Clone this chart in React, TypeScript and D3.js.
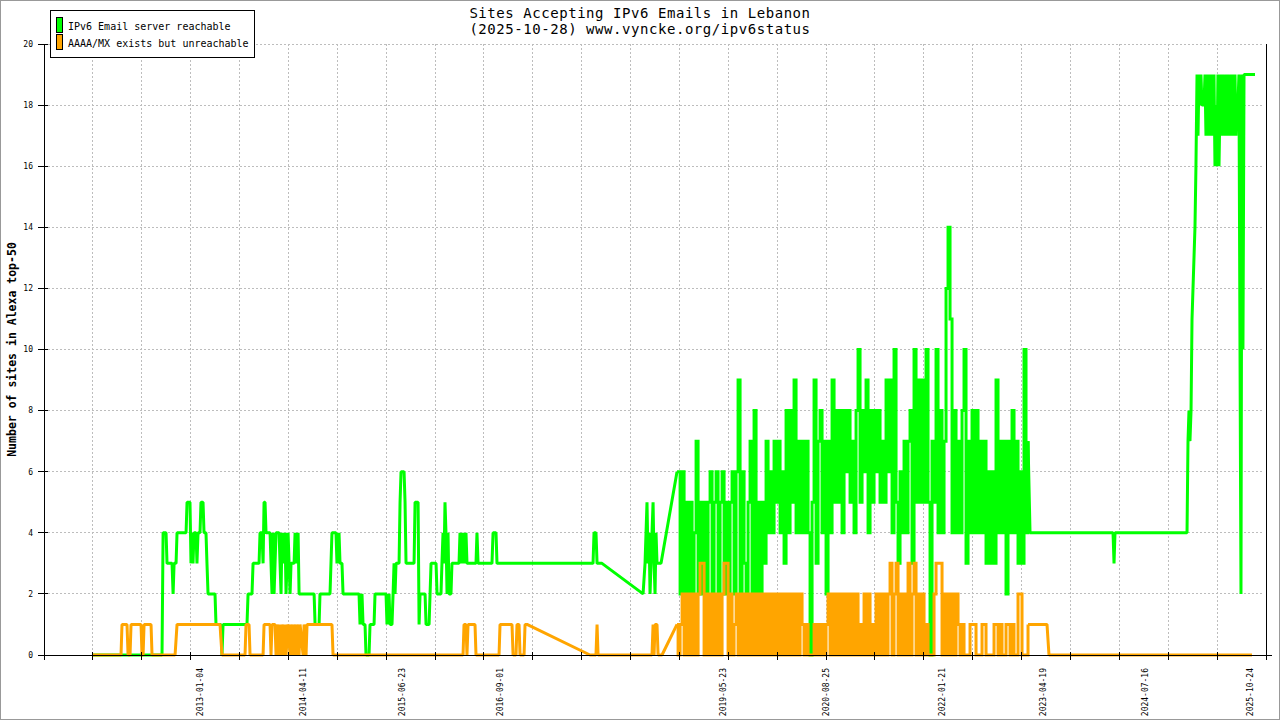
import React from "react"
import * as d3 from "d3"

// chart text
const titleLines = ["Sites Accepting IPv6 Emails in Lebanon", "(2025-10-28) www.vyncke.org/ipv6status"]
const yAxisTitle = "Number of sites in Alexa top-50"
const seriesNames = ["IPv6 Email server reachable", "AAAA/MX exists but unreachable"]
const seriesColors = ["#00ff00", "#ffa500"]

// axes
const xLabels = ["2013-01-04", "2014-04-11", "2015-06-23", "2016-09-01", "2019-05-23", "2020-08-25", "2022-01-21", "2023-04-19", "2024-07-16", "2025-10-24"]
const yTicks = [0, 2, 4, 6, 8, 10, 12, 14, 16, 18, 20]
const xDomain = [2011.108, 2026.007] // decimal years
const xTickCount = 26

// [decimal year, sites] — sparse polling
const greenEarly: [number, number][] = [
  [2011.693, 0], [2012.547, 0], [2012.56, 4], [2012.596, 4], [2012.608, 3], [2012.669, 3], [2012.682, 2], [2012.694, 3],
  [2012.718, 3], [2012.73, 4], [2012.84, 4], [2012.852, 5], [2012.888, 5], [2012.9, 3], [2012.912, 4], [2012.925, 3],
  [2012.937, 4], [2012.961, 4], [2012.973, 3], [2012.986, 4], [2013.01, 4], [2013.022, 5], [2013.047, 5], [2013.059, 4],
  [2013.083, 4], [2013.095, 3], [2013.108, 2], [2013.193, 2], [2013.205, 1], [2013.266, 1], [2013.278, 0], [2013.291, 1],
  [2013.583, 1], [2013.596, 2], [2013.644, 2], [2013.657, 3], [2013.73, 3], [2013.742, 4], [2013.766, 4], [2013.779, 3],
  [2013.791, 5], [2013.803, 5], [2013.815, 4], [2013.864, 4], [2013.876, 3], [2013.888, 2], [2013.901, 4], [2013.913, 2],
  [2013.925, 3], [2013.937, 4], [2013.974, 4], [2013.986, 3], [2013.998, 2], [2014.01, 4], [2014.023, 3], [2014.047, 4],
  [2014.059, 2], [2014.071, 3], [2014.084, 4], [2014.096, 3], [2014.108, 2], [2014.12, 3], [2014.157, 3], [2014.169, 4],
  [2014.181, 3], [2014.206, 4], [2014.218, 2], [2014.401, 2], [2014.413, 1], [2014.462, 1], [2014.473, 2], [2014.595, 2],
  [2014.607, 3], [2014.619, 4], [2014.668, 4], [2014.68, 3], [2014.705, 4], [2014.717, 3], [2014.741, 3], [2014.754, 2],
  [2014.949, 2], [2014.961, 1], [2014.985, 2], [2014.998, 1], [2015.022, 1], [2015.034, 0], [2015.071, 0], [2015.083, 1],
  [2015.132, 1], [2015.144, 2], [2015.278, 2], [2015.29, 1], [2015.315, 2], [2015.327, 1], [2015.351, 1], [2015.364, 2],
  [2015.376, 3], [2015.388, 2], [2015.4, 3], [2015.437, 3], [2015.449, 5], [2015.461, 6], [2015.498, 6], [2015.51, 5],
  [2015.522, 3], [2015.62, 3], [2015.632, 5], [2015.669, 5], [2015.681, 1], [2015.693, 2], [2015.754, 2], [2015.766, 1],
  [2015.803, 1], [2015.815, 2], [2015.827, 3], [2015.888, 3], [2015.9, 2], [2015.948, 2], [2015.96, 3], [2015.973, 4],
  [2015.985, 3], [2015.997, 5], [2016.009, 4], [2016.022, 2], [2016.034, 4], [2016.046, 2], [2016.07, 2], [2016.082, 3],
  [2016.168, 3], [2016.18, 4], [2016.192, 3], [2016.204, 4], [2016.217, 3], [2016.229, 4], [2016.241, 3], [2016.253, 4],
  [2016.265, 3], [2016.375, 3], [2016.387, 4], [2016.4, 3], [2016.57, 3], [2016.583, 4], [2016.619, 4], [2016.631, 3],
  [2017.802, 3], [2017.814, 4], [2017.838, 4], [2017.851, 3], [2017.911, 3], [2018.412, 2], [2018.436, 3], [2018.46, 5],
  [2018.473, 3], [2018.485, 4], [2018.497, 2], [2018.509, 3], [2018.521, 4], [2018.534, 5], [2018.546, 3], [2018.558, 2],
  [2018.57, 4], [2018.582, 3], [2018.631, 3], [2018.826, 6],
]

const orangeEarly: [number, number][] = [
  [2011.693, 0], [2012.047, 0], [2012.059, 1], [2012.12, 1], [2012.133, 0], [2012.157, 0], [2012.169, 1], [2012.291, 1],
  [2012.303, 0], [2012.316, 0], [2012.328, 1], [2012.413, 1], [2012.425, 0], [2012.706, 0], [2012.73, 1], [2013.254, 1],
  [2013.278, 0], [2013.559, 0], [2013.571, 1], [2013.608, 1], [2013.62, 0], [2013.779, 0], [2013.791, 1], [2013.864, 1],
  [2013.876, 0], [2013.888, 1], [2013.925, 1], [2013.937, 0], [2013.949, 1], [2013.974, 0], [2013.986, 1], [2013.998, 0],
  [2014.01, 1], [2014.035, 0], [2014.047, 1], [2014.059, 0], [2014.084, 1], [2014.108, 0], [2014.12, 1], [2014.145, 0],
  [2014.157, 1], [2014.181, 0], [2014.193, 1], [2014.218, 0], [2014.23, 1], [2014.267, 0], [2014.279, 1], [2014.303, 0],
  [2014.315, 1], [2014.619, 1], [2014.632, 0], [2016.217, 0], [2016.229, 1], [2016.253, 1], [2016.265, 0], [2016.278, 1],
  [2016.363, 1], [2016.375, 0], [2016.656, 0], [2016.668, 1], [2016.814, 1], [2016.827, 0], [2016.863, 0], [2016.875, 1],
  [2016.9, 1], [2016.912, 0], [2016.961, 0], [2016.973, 1], [2016.997, 1], [2017.765, 0], [2017.838, 0], [2017.851, 1],
  [2017.863, 0], [2018.521, 0], [2018.534, 1], [2018.546, 0], [2018.558, 1], [2018.582, 1], [2018.595, 0], [2018.643, 0],
  [2018.826, 1],
]

// frequent polling, one value every ~9 days from late 2018 to early 2023
const denseStart = 2018.839
const denseStep = 0.02438
const greenDense = [
  6, 2, 6, 2, 5, 2, 5, 2, 4, 7,
  2, 5, 2, 5, 2, 5, 6, 2, 5, 6,
  2, 5, 6, 2, 5, 2, 5, 6, 2, 6,
  9, 2, 6, 3, 2, 5, 7, 2, 8, 2,
  5, 2, 5, 3, 7, 4, 6, 4, 7, 5,
  7, 4, 6, 3, 8, 4, 8, 5, 9, 4,
  7, 4, 7, 4, 7, 4, 0, 5, 9, 3,
  7, 8, 4, 7, 2, 7, 4, 9, 5, 8,
  5, 8, 4, 8, 6, 8, 5, 7, 4, 8,
  10, 5, 8, 6, 9, 4, 8, 5, 8, 6,
  8, 5, 7, 5, 9, 6, 9, 4, 10, 5,
  3, 6, 4, 7, 4, 7, 8, 3, 10, 5,
  9, 5, 9, 5, 10, 5, 0, 7, 5, 10,
  4, 8, 4, 7, 12, 14, 11, 4, 8, 4,
  7, 4, 8, 10, 3, 7, 4, 8, 4, 8,
  4, 7, 4, 7, 3, 6, 3, 6, 3, 9,
  4, 7, 4, 7, 2, 7, 4, 8, 4, 7,
  3, 6, 3, 10, 4, 7,
]
const orangeDense = [
  0, 1, 2, 0, 2, 0, 2, 0, 2, 0,
  2, 3, 3, 0, 2, 0, 2, 0, 2, 0,
  2, 0, 2, 3, 3, 0, 2, 0, 1, 2,
  0, 2, 0, 2, 0, 2, 0, 2, 0, 2,
  0, 2, 0, 2, 0, 2, 0, 2, 0, 2,
  0, 2, 0, 2, 0, 2, 0, 2, 0, 2,
  0, 2, 1, 0, 1, 0, 0, 0, 1, 0,
  1, 0, 1, 0, 1, 2, 0, 2, 0, 2,
  0, 2, 0, 2, 0, 2, 0, 2, 0, 2,
  0, 1, 0, 2, 0, 2, 0, 1, 0, 2,
  0, 2, 0, 2, 0, 2, 3, 0, 2, 3,
  0, 2, 0, 2, 0, 3, 0, 2, 3, 0,
  2, 0, 2, 0, 1, 0, 0, 0, 2, 3,
  3, 3, 0, 2, 0, 2, 0, 2, 0, 2,
  1, 0, 1, 0, 0, 0, 1, 1, 1, 0,
  0, 0, 1, 1, 0, 0, 0, 0, 1, 1,
  0, 1, 0, 0, 1, 1, 0, 1, 0, 0,
  2, 2, 0, 0, 0, 1,
]

const greenLate: [number, number][] = [
  [2023.13, 4], [2024.142, 4], [2024.154, 3], [2024.166, 4], [2025.044, 4], [2025.056, 7], [2025.068, 8], [2025.08, 7],
  [2025.093, 8], [2025.105, 11], [2025.117, 12], [2025.129, 13], [2025.141, 14], [2025.153, 16], [2025.166, 19], [2025.178, 17],
  [2025.19, 19], [2025.202, 18], [2025.214, 19], [2025.226, 18], [2025.251, 18], [2025.263, 19], [2025.275, 17], [2025.287, 19],
  [2025.3, 17], [2025.312, 19], [2025.324, 18], [2025.336, 17], [2025.348, 19], [2025.36, 17], [2025.373, 19], [2025.385, 16],
  [2025.397, 18], [2025.409, 16], [2025.421, 19], [2025.434, 16], [2025.446, 18], [2025.458, 19], [2025.47, 17], [2025.482, 19],
  [2025.495, 18], [2025.507, 17], [2025.519, 19], [2025.531, 17], [2025.543, 19], [2025.556, 17], [2025.568, 18], [2025.58, 19],
  [2025.592, 17], [2025.604, 19], [2025.617, 17], [2025.629, 19], [2025.641, 17], [2025.653, 18], [2025.665, 18], [2025.677, 19],
  [2025.69, 10], [2025.702, 2], [2025.714, 19], [2025.726, 10], [2025.739, 19], [2025.873, 19],
]
const orangeLate: [number, number][] = [[2023.337, 1], [2023.361, 0], [2025.836, 0]]

const W = 1280
const H = 720
const PLOT = { left: 44, top: 44, right: 1266, bottom: 655 }
const FONT = "'DejaVu Sans Mono', 'Liberation Mono', monospace"
const GRID = "#bdbdbd"

function decimalYear(s: string) {
  const [y, m, d] = s.split("-").map(Number)
  const start = Date.UTC(y, 0, 1)
  const end = Date.UTC(y + 1, 0, 1)
  return y + (Date.UTC(y, m - 1, d) - start) / (end - start)
}

const denseAsPoints = (vals: number[]) =>
  vals.map((v, i) => [denseStart + i * denseStep, v] as [number, number])

// each series: sparse part, dense burst, sparse part
const series = [
  { early: greenEarly, dense: denseAsPoints(greenDense), late: greenLate },
  { early: orangeEarly, dense: denseAsPoints(orangeDense), late: orangeLate },
]

export default function App() {
  const x = d3.scaleLinear().domain(xDomain).range([PLOT.left, PLOT.right])
  const y = d3.scaleLinear().domain([0, 20]).range([PLOT.bottom, PLOT.top])
  const line = d3
    .line<[number, number]>()
    .x((d) => x(d[0]))
    .y((d) => y(d[1]))
  const stepLine = d3
    .line<[number, number]>()
    .x((d) => x(d[0]))
    .y((d) => y(d[1]))
    .curve(d3.curveStepAfter)

  const xTicks = d3.range(xTickCount).map((i) => xDomain[0] + (i * (xDomain[1] - xDomain[0])) / (xTickCount - 1))

  return (
    <svg
      width={W}
      height={H}
      style={{ position: "absolute", left: 0, top: 0, background: "#fff" }}
      fontFamily={FONT}
    >
      <rect x={0.5} y={0.5} width={W - 1} height={H - 1} fill="#fff" stroke="#999" />

      {/* grid */}
      <g stroke={GRID} strokeDasharray="2,2" shapeRendering="crispEdges">
        {yTicks.map((t) => (
          <line key={"gy" + t} x1={PLOT.left + 4} x2={PLOT.right - 4} y1={y(t)} y2={y(t)} />
        ))}
        {xTicks.slice(1, -1).map((t, i) => (
          <line key={"gx" + i} x1={x(t)} x2={x(t)} y1={PLOT.top} y2={PLOT.bottom - 3} />
        ))}
      </g>

      {/* series: reachable below, unreachable on top */}
      {series.map((s, i) => {
        const lastEarly = s.early[s.early.length - 1]
        const lastDense = s.dense[s.dense.length - 1]
        return (
          <g key={i} fill="none" stroke={seriesColors[i]} strokeWidth={3}>
            <path d={line(s.early) ?? ""} strokeLinejoin="bevel" />
            <path d={stepLine([lastEarly, ...s.dense]) ?? ""} strokeLinejoin="miter" />
            <path d={line([lastDense, ...s.late]) ?? ""} strokeLinejoin="bevel" />
          </g>
        )
      })}

      {/* axes */}
      <g stroke="#000" shapeRendering="crispEdges">
        <line x1={PLOT.left} x2={PLOT.left} y1={PLOT.top} y2={PLOT.bottom} />
        <line x1={PLOT.right} x2={PLOT.right} y1={PLOT.top} y2={PLOT.bottom} />
        <line x1={PLOT.left - 6} x2={PLOT.right + 6} y1={PLOT.bottom} y2={PLOT.bottom} />
        {yTicks.map((t) => (
          <line key={"ty" + t} x1={PLOT.left - 6} x2={PLOT.left + 4} y1={y(t)} y2={y(t)} />
        ))}
        {xTicks.map((t, i) => (
          <line key={"tx" + i} x1={x(t)} x2={x(t)} y1={PLOT.bottom - 3} y2={PLOT.bottom + 5} />
        ))}
      </g>

      {yTicks.map((t) => (
        <text key={"ly" + t} x={PLOT.left - 11} y={y(t)} dy="0.35em" textAnchor="end" fontSize={8} fill="#000">
          {t}
        </text>
      ))}
      {xLabels.map((l) => {
        const px = x(decimalYear(l))
        return (
          <text
            key={l}
            transform={`translate(${px},${PLOT.bottom + 13}) rotate(-90)`}
            dy="0.35em"
            textAnchor="end"
            fontSize={8}
            fill="#000"
          >
            {l}
          </text>
        )
      })}

      <text
        transform={`translate(12,${(PLOT.top + PLOT.bottom) / 2}) rotate(-90)`}
        dy="0.35em"
        textAnchor="middle"
        fontSize={11.5}
        fontWeight="bold"
        fill="#000"
      >
        {yAxisTitle}
      </text>

      {titleLines.map((t, i) => (
        <text
          key={i}
          x={W / 2}
          y={18 + i * 15.5}
          textAnchor="middle"
          fontSize={14}
          letterSpacing={0.55}
          fill="#000"
        >
          {t}
        </text>
      ))}

      {/* legend */}
      <g shapeRendering="crispEdges">
        <rect x={50.5} y={10.5} width={204} height={47} fill="#fff" stroke="#000" />
        {seriesNames.map((n, i) => (
          <g key={n}>
            <rect x={56.5} y={17.5 + i * 17} width={6} height={15} fill={seriesColors[i]} stroke="#000" />
            <text x={68} y={29.5 + i * 17} fontSize={10} fill="#000" shapeRendering="auto">
              {n}
            </text>
          </g>
        ))}
      </g>
    </svg>
  )
}
